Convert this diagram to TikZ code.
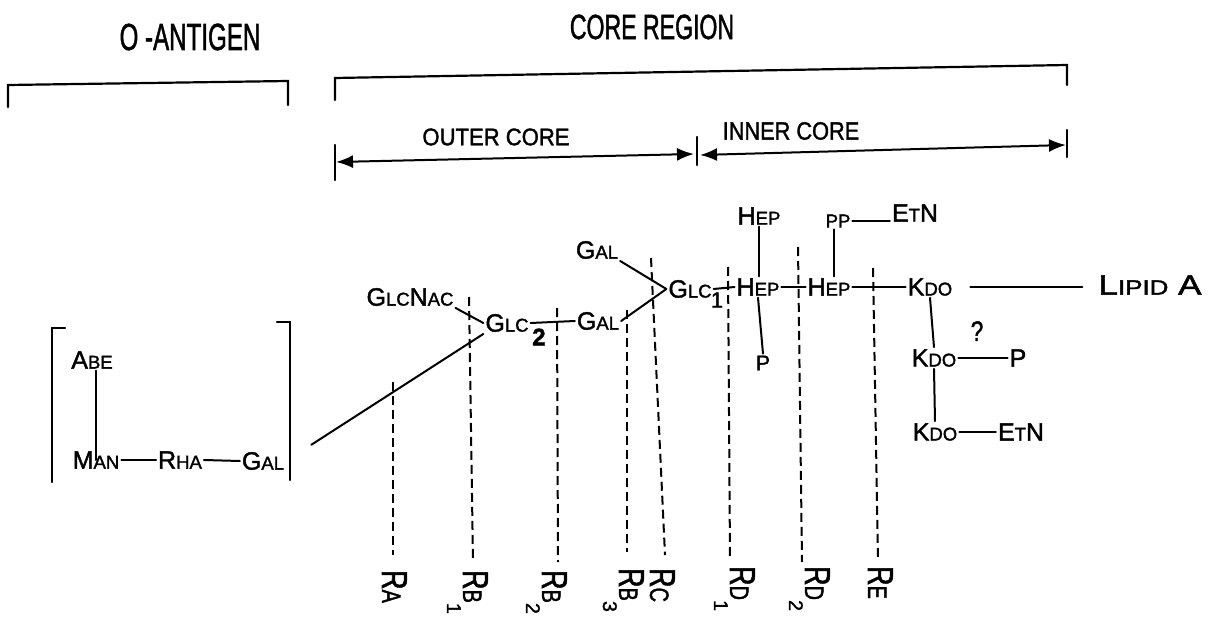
\documentclass[tikz,border=0pt]{standalone}
\usepackage{graphicx}
\usepackage{fontspec}
\setmainfont{Liberation Sans}[RawFeature={embolden=1.6}]
\usetikzlibrary{arrows.meta,calc}
% lettering helpers: reduced capitals and horizontal squeeze
\newcommand\capsm[1]{\scalebox{0.74}{#1}}
\newcommand\squeeze[2]{\scalebox{#1}[1]{#2}}
\begin{document}
\begin{tikzpicture}[x=1pt,y=-1pt,line width=2.2pt,line cap=round,
  sug/.style={font=\fontsize{25}{25}\selectfont, inner sep=1pt},
  head/.style={inner sep=0pt},
  rlab/.style={rotate=-90, anchor=base west, inner sep=0pt, font=\fontsize{36}{36}\selectfont},
  cut/.style={dash pattern=on 9pt off 5pt, line width=2pt, line cap=butt},
  bond/.style={line width=2pt},
  span/.style={line width=2pt, {Latex[length=17pt,width=13pt]}-{Latex[length=17pt,width=13pt]}}]
\useasboundingbox (0,0) rectangle (1224,623);

% ---- headings ----
\node[head, font=\fontsize{37.7}{40}\selectfont] (oant) at (190,37) {\squeeze{0.64}{O -ANTIGEN}};
\node[head, font=\fontsize{35}{38}\selectfont] (core) at (652,27) {\squeeze{0.66}{CORE REGION}};
\node[head, font=\fontsize{24}{26}\selectfont] (outer) at (496,137) {\squeeze{0.92}{OUTER CORE}};
\node[head, font=\fontsize{25}{27}\selectfont] (inner) at (791,131) {\squeeze{0.87}{INNER CORE}};

% ---- region brackets ----
\draw (8,107) -- (8,85) -- (288,81) -- (288,105);
\draw (335,100) -- (335,78) -- (1067,65) -- (1067,85);

% ---- outer / inner core spans ----
\coordinate (oL) at (336,162);
\coordinate (oR) at (694,154);
\coordinate (iL) at (700,155);
\coordinate (iR) at (1066,145);
\draw (335,145) -- (335,180);
\draw (697,137) -- (697,165);
\draw (1067,130) -- (1067,157);
\draw[span] (oL) -- (oR);
\draw[span] (iL) -- (iR);

% ---- O-antigen repeating unit ----
\draw (65,328) -- (52,328) -- (52,482);
\draw (277,322) -- (290,322) -- (290,480);
\node[sug] (abe) at (92,360) {A\capsm{BE}};
\node[sug] (man) at (96,460) {M\capsm{AN}};
\node[sug] (rha) at (180,460) {R\capsm{HA}};
\node[sug] (galO) at (263,461) {G\capsm{AL}};
\draw[bond] (abe.south -| man.north) -- (man.center);
\draw[bond] (man.east) -- (rha.west);
\draw[bond] (rha.east) -- (galO.west);

% ---- outer core ----
\node[sug] (glcnac) at (410,297) {G\capsm{LC}N\capsm{AC}};
\node[sug] (glc2) at (507,323) {G\capsm{LC}};
\node[inner sep=0pt, font=\fontsize{24}{24}\selectfont\bfseries] (glc2sub) at (539,337) {2};
\node[sug] (galA) at (598,321) {G\capsm{AL}};
\node[sug] (galB) at (597,250) {G\capsm{AL}};
\node[sug] (glc1) at (690,289) {G\capsm{LC}};
\node[inner sep=0pt, font=\fontsize{22}{22}\selectfont] (glc1sub) at (717,300) {1};

\draw[bond, shorten <=30pt] (galO.east) -- (glc2.south west);
\draw[bond] (glcnac.south east) -- (glc2.west);
\draw[bond] (glc2.east) -- (galA.west);
\draw[bond] (galA.east) -- (glc1.west);
\draw[bond] (galB.south east) -- (glc1.west);

% ---- inner core ----
\node[sug] (hepA) at (759,216) {H\capsm{EP}};
\node[sug] (hep1) at (758,287) {H\capsm{EP}};
\node[sug] (pA) at (763,363) {\scalebox{0.85}{P}};
\node[sug] (hep2) at (829,287) {H\capsm{EP}};
\node[sug] (pp) at (838,221) {\capsm{PP}};
\node[sug] (etnA) at (915,213) {E\capsm{T}N};
\node[sug] (kdo1) at (930,287) {K\capsm{DO}};
\node[sug, font=\fontsize{28}{28}\selectfont] (lipid) at (1150,285) {\squeeze{1.25}{L\capsm{IPID} A}};
\node[sug, font=\fontsize{28}{28}\selectfont] (q) at (977,331) {\squeeze{0.8}{?}};
\node[sug] (kdo2) at (934,358) {K\capsm{DO}};
\node[sug] (pB) at (1018,358) {P};
\node[sug] (kdo3) at (935,432) {K\capsm{DO}};
\node[sug] (etnB) at (1021,432) {E\capsm{T}N};

\draw[bond] (glc1.east) -- (hep1.west);
\draw[bond] (hepA.south) -- (hepA.south |- hep1.north);
\draw[bond] (hep1.south) -- (pA.north);
\draw[bond] (hep1.east) -- (hep2.west);
\draw[bond] ([xshift=-4pt]pp.south) -- ([xshift=-4pt]pp.south |- hep2.north);
\draw[bond] (pp.east) -- (pp.east -| etnA.west);
\draw[bond] (hep2.east) -- (kdo1.west);
\draw[bond, shorten <=16pt, shorten >=14pt] (kdo1.east) -- (kdo1.east -| lipid.west);
\draw[bond] (kdo1.south) -- (kdo2.north);
\draw[bond] (kdo2.east) -- (pB.west);
\draw[bond] (kdo2.south) -- (kdo3.north);
\draw[bond] (kdo3.east) -- (etnB.west);

% ---- mutant cut-off lines ----
\coordinate (ta) at (393,382);  \coordinate (ba) at (393,555);
\coordinate (tb1) at (469,297); \coordinate (bb1) at (473,562);
\coordinate (tb2) at (557,308); \coordinate (bb2) at (558,562);
\coordinate (tb3) at (627,310); \coordinate (bb3) at (627,552);
\coordinate (tc) at (651,258);  \coordinate (bc) at (665,555);
\coordinate (td1) at (728,267); \coordinate (bd1) at (730,560);
\coordinate (td2) at (798,247); \coordinate (bd2) at (802,562);
\coordinate (te) at (873,268);  \coordinate (be) at (878,560);
\foreach \t/\b in {ta/ba,tb1/bb1,tb2/bb2,tb3/bb3,tc/bc,td1/bd1,td2/bd2,te/be}
  \draw[cut] (\t) -- (\b);

\node[rlab] (ra) at (382,569) {\squeeze{0.75}{R\capsm{A}}};
\node[rlab] (rb1) at (463,569) {\squeeze{0.75}{R\capsm{B}}\raisebox{-16pt}{\scalebox{0.55}{1}}};
\node[rlab] (rb2) at (542,569) {\squeeze{0.75}{R\capsm{B}}\raisebox{-16pt}{\scalebox{0.55}{2}}};
\node[rlab] (rb3) at (619,567) {\squeeze{0.75}{R\capsm{B}}\raisebox{-16pt}{\scalebox{0.55}{3}}};
\node[rlab] (rc) at (650,567) {\squeeze{0.75}{R\capsm{C}}};
\node[rlab] (rd1) at (730,565) {\squeeze{0.75}{R\capsm{D}}\raisebox{-16pt}{\scalebox{0.55}{1}}};
\node[rlab] (rd2) at (805,565) {\squeeze{0.75}{R\capsm{D}}\raisebox{-16pt}{\scalebox{0.55}{2}}};
\node[rlab] (re) at (868,565) {\squeeze{0.75}{R\capsm{E}}};
\end{tikzpicture}
\end{document}
